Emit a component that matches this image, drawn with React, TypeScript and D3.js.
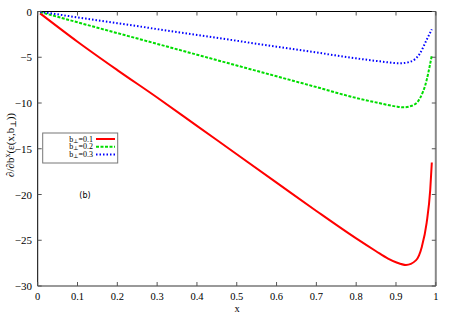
import React from "react";
import * as d3 from "d3";

const xTicks = [0, 0.1, 0.2, 0.3, 0.4, 0.5, 0.6, 0.7, 0.8, 0.9, 1];
const yTicks = [0, -5, -10, -15, -20, -25, -30];

const redX = [0.006, 0.1, 0.2, 0.3, 0.4, 0.5, 0.6, 0.7, 0.8, 0.85, 0.88, 0.9, 0.925, 0.95, 0.965, 0.977, 0.986, 0.99];
const redY = [-0.2, -3.3, -6.4, -9.4, -12.5, -15.6, -18.7, -21.8, -24.8, -26.2, -27.0, -27.4, -27.7, -27.2, -25.7, -23.1, -19.5, -16.5];

const greenX = [0.006, 0.1, 0.2, 0.3, 0.4, 0.5, 0.6, 0.7, 0.8, 0.86, 0.9, 0.92, 0.94, 0.96, 0.977, 0.985, 0.99];
const greenY = [-0.05, -1.18, -2.36, -3.54, -4.72, -5.9, -7.08, -8.26, -9.45, -10.03, -10.38, -10.47, -10.3, -9.5, -7.5, -5.9, -4.8];

const blueX = [0.006, 0.1, 0.2, 0.3, 0.4, 0.5, 0.6, 0.7, 0.8, 0.86, 0.91, 0.935, 0.96, 0.977, 0.99];
const blueY = [-0.03, -0.64, -1.28, -1.92, -2.56, -3.2, -3.84, -4.48, -5.12, -5.45, -5.66, -5.5, -4.6, -3.1, -1.95];

const seriesNames = ["0.1", "0.2", "0.3"];

const W = 452, H = 316;
const L = 37.7, R = 435.8, T = 11.5, B = 286;
const SERIF = "'Liberation Serif', 'DejaVu Serif', Times, serif";

export default function App() {
  const x = d3.scaleLinear().domain([0, 1]).range([L, R]);
  const y = d3.scaleLinear().domain([-30, 0]).range([B, T]);
  const line = d3.line<[number, number]>().x(d => x(d[0])).y(d => y(d[1])).curve(d3.curveMonotoneX);
  const series = [
    { xs: redX, ys: redY, color: "#ff0000", dash: undefined as string | undefined },
    { xs: greenX, ys: greenY, color: "#00dd00", dash: "3,1.5" },
    { xs: blueX, ys: blueY, color: "#0000ff", dash: "1.5,2" },
  ];
  const tick = 4;
  return (
    <div style={{ position: "fixed", left: 0, top: 0 }}>
      <svg width={W} height={H} style={{ display: "block", background: "#fff", fontFamily: SERIF }}>
        {series.map((s, i) => (
          <path key={i} d={line(s.xs.map((v, j) => [v, s.ys[j]]) as [number, number][]) || ""}
            fill="none" stroke={s.color} strokeWidth={2} strokeDasharray={s.dash} />
        ))}
        <line x1={L} y1={T} x2={R} y2={T} stroke="#000" strokeWidth={1} />
        <line x1={L} y1={T} x2={L} y2={B} stroke="#000" strokeWidth={1} />
        <line x1={L} y1={B} x2={R} y2={B} stroke="#777" strokeWidth={1.5} />
        <line x1={R} y1={T} x2={R} y2={B} stroke="#888" strokeWidth={2} />
        {xTicks.map((t, i) => (
          <g key={"x" + i}>
            <line x1={x(t)} x2={x(t)} y1={B} y2={B - tick} stroke="#555" />
            <line x1={x(t)} x2={x(t)} y1={T} y2={T + tick} stroke="#555" />
            <text x={x(t)} y={299.5} textAnchor="middle" style={{ fontFamily: SERIF }} fontSize={10.5}>{String(t)}</text>
          </g>
        ))}
        {yTicks.map((t, i) => (
          <g key={"y" + i}>
            <line x1={L} x2={L + tick} y1={y(t)} y2={y(t)} stroke="#555" />
            <line x1={R} x2={R - tick} y1={y(t)} y2={y(t)} stroke="#555" />
            <text x={32} y={y(t) + 4} textAnchor="end" style={{ fontFamily: SERIF }} fontSize={11}>{t < 0 ? "\u2212" + Math.abs(t) : String(t)}</text>
          </g>
        ))}
        <text x={237} y={311.5} textAnchor="middle" style={{ fontFamily: SERIF }} fontSize={10.5}>x</text>
        <text transform="translate(14,145) rotate(-90)" textAnchor="middle" style={{ fontFamily: SERIF }} fontSize={11}>
          ∂/∂b<tspan dy={-4} fontSize={8}>x</tspan><tspan dy={4}>(ε(x,b</tspan><tspan dy={2} fontSize={8}>⊥</tspan><tspan dy={-2}>))</tspan>
        </text>
        <text x={85} y={198} textAnchor="middle" style={{ fontFamily: "'DejaVu Sans', sans-serif" }} fontSize={8}>(b)</text>
        <rect x={42.7} y={133} width={75} height={30} fill="#fff" stroke="#777" strokeWidth={1} />
        {series.map((s, i) => {
          const yy = 139 + i * 7.8;
          return (
            <g key={"l" + i}>
              <text x={93} y={yy + 2.5} textAnchor="end" style={{ fontFamily: SERIF }} fontSize={8}>
                b<tspan dy={1} fontSize={5.5}>⊥</tspan><tspan dy={-1}>={seriesNames[i]}</tspan>
              </text>
              <line x1={96} x2={115} y1={yy} y2={yy} stroke={s.color} strokeWidth={2} strokeDasharray={s.dash} />
            </g>
          );
        })}
      </svg>
    </div>
  );
}
